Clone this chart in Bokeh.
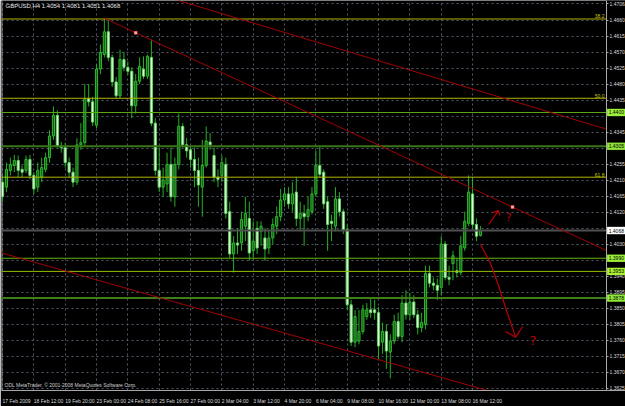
import numpy as np
from bokeh.plotting import figure
from bokeh.embed import file_html
from bokeh.resources import INLINE
from bokeh.models import (FixedTicker, PrintfTickFormatter, Label, Range1d, LinearAxis, Grid)
from bokeh.core.properties import value

# ---- OHLC data (GBPUSD H4, bar index 0 = 17 Feb 2009 04:00) ----
opens = [1.4204, 1.4190, 1.4237, 1.4251, 1.4265, 1.4240, 1.4237, 1.4268, 1.4223, 1.4190,
         1.4218, 1.4240, 1.4273, 1.4334, 1.4392, 1.4306, 1.4301, 1.4259, 1.4232, 1.4204,
         1.4309, 1.4315, 1.4439, 1.4430, 1.4364, 1.4522, 1.4563, 1.4627, 1.4555, 1.4486,
         1.4447, 1.4549, 1.4527, 1.4516, 1.4419, 1.4488, 1.4522, 1.4502, 1.4555, 1.4370,
         1.4237, 1.4190, 1.4199, 1.4254, 1.4163, 1.4254, 1.4361, 1.4309, 1.4295, 1.4268,
         1.4237, 1.4190, 1.4251, 1.4317, 1.4279, 1.4218, 1.4223, 1.4254, 1.4121, 1.4002,
         1.4033, 1.4033, 1.4080, 1.4102, 1.4011, 1.4074, 1.4066, 1.4047, 1.4019, 1.4047,
         1.4080, 1.4107, 1.4154, 1.4171, 1.4143, 1.4176, 1.4102, 1.4116, 1.4107, 1.4121,
         1.4171, 1.4251, 1.4232, 1.4149, 1.4094, 1.4080, 1.4157, 1.4121, 1.4071, 1.3859,
         1.3754, 1.3757, 1.3784, 1.3826, 1.3845, 1.3845, 1.3837, 1.3754, 1.3784, 1.3726,
         1.3757, 1.3812, 1.3770, 1.3864, 1.3831, 1.3867, 1.3831, 1.3795, 1.3804, 1.3947,
         1.3920, 1.3914, 1.3908, 1.4030, 1.3936, 1.3975, 1.3955, 1.3950, 1.4019, 1.4088,
         1.4171, 1.4085, 1.4054]
highs = [1.4223, 1.4259, 1.4273, 1.4281, 1.4279, 1.4251, 1.4279, 1.4281, 1.4232, 1.4259,
         1.4273, 1.4287, 1.4350, 1.4417, 1.4406, 1.4317, 1.4315, 1.4273, 1.4245, 1.4328,
         1.4370, 1.4480, 1.4480, 1.4444, 1.4535, 1.4591, 1.4665, 1.4660, 1.4563, 1.4500,
         1.4577, 1.4571, 1.4544, 1.4527, 1.4508, 1.4555, 1.4558, 1.4563, 1.4605, 1.4384,
         1.4301, 1.4245, 1.4287, 1.4301, 1.4273, 1.4397, 1.4370, 1.4328, 1.4306, 1.4301,
         1.4273, 1.4323, 1.4361, 1.4342, 1.4301, 1.4240, 1.4279, 1.4273, 1.4149, 1.4052,
         1.4074, 1.4121, 1.4163, 1.4149, 1.4094, 1.4094, 1.4094, 1.4074, 1.4066, 1.4102,
         1.4135, 1.4185, 1.4190, 1.4190, 1.4204, 1.4218, 1.4149, 1.4140, 1.4163, 1.4190,
         1.4292, 1.4306, 1.4240, 1.4163, 1.4113, 1.4190, 1.4176, 1.4129, 1.4085, 1.3873,
         1.3845, 1.3845, 1.3859, 1.3864, 1.3878, 1.3873, 1.3853, 1.3809, 1.3804, 1.3776,
         1.3831, 1.3837, 1.3886, 1.3900, 1.3892, 1.3886, 1.3845, 1.3837, 1.3969, 1.3969,
         1.3936, 1.3933, 1.4052, 1.4038, 1.3969, 1.4011, 1.3991, 1.4052, 1.4121, 1.4223,
         1.4218, 1.4102, 1.4081]
lows = [1.4149, 1.4176, 1.4223, 1.4232, 1.4218, 1.4218, 1.4229, 1.4212, 1.4171, 1.4176,
        1.4204, 1.4232, 1.4259, 1.4323, 1.4301, 1.4287, 1.4245, 1.4218, 1.4190, 1.4196,
        1.4295, 1.4306, 1.4417, 1.4362, 1.4356, 1.4508, 1.4555, 1.4544, 1.4472, 1.4439,
        1.4439, 1.4516, 1.4505, 1.4384, 1.4397, 1.4480, 1.4494, 1.4494, 1.4362, 1.4223,
        1.4176, 1.4163, 1.4176, 1.4149, 1.4135, 1.4240, 1.4301, 1.4273, 1.4245, 1.4190,
        1.4135, 1.4107, 1.4245, 1.4295, 1.4204, 1.4190, 1.4204, 1.4102, 1.3991, 1.3950,
        1.4002, 1.4011, 1.4038, 1.3983, 1.3991, 1.4002, 1.4025, 1.3983, 1.4002, 1.4030,
        1.4058, 1.4094, 1.4135, 1.4129, 1.4121, 1.4080, 1.4066, 1.4025, 1.4094, 1.4113,
        1.4163, 1.4218, 1.4129, 1.4011, 1.4038, 1.4066, 1.4107, 1.4058, 1.3845, 1.3743,
        1.3740, 1.3748, 1.3776, 1.3817, 1.3822, 1.3817, 1.3707, 1.3721, 1.3679, 1.3652,
        1.3748, 1.3762, 1.3754, 1.3817, 1.3817, 1.3822, 1.3776, 1.3782, 1.3790, 1.3908,
        1.3900, 1.3873, 1.3886, 1.3928, 1.3914, 1.3928, 1.3936, 1.3942, 1.4011, 1.4080,
        1.4074, 1.4038, 1.4051]
closes = [1.4163, 1.4240, 1.4253, 1.4265, 1.4237, 1.4232, 1.4268, 1.4223, 1.4185, 1.4237,
          1.4245, 1.4273, 1.4334, 1.4392, 1.4306, 1.4301, 1.4259, 1.4232, 1.4204, 1.4309,
          1.4315, 1.4439, 1.4430, 1.4373, 1.4522, 1.4569, 1.4627, 1.4555, 1.4486, 1.4447,
          1.4549, 1.4527, 1.4516, 1.4419, 1.4488, 1.4530, 1.4502, 1.4558, 1.4370, 1.4237,
          1.4190, 1.4210, 1.4254, 1.4163, 1.4254, 1.4361, 1.4309, 1.4292, 1.4268, 1.4237,
          1.4196, 1.4251, 1.4320, 1.4309, 1.4218, 1.4212, 1.4259, 1.4116, 1.4002, 1.4033,
          1.4027, 1.4099, 1.4116, 1.4005, 1.4038, 1.4019, 1.4080, 1.4016, 1.4047, 1.4085,
          1.4107, 1.4154, 1.4171, 1.4143, 1.4171, 1.4102, 1.4116, 1.4107, 1.4127, 1.4171,
          1.4251, 1.4226, 1.4143, 1.4085, 1.4088, 1.4157, 1.4121, 1.4071, 1.3859, 1.3754,
          1.3826, 1.3784, 1.3845, 1.3845, 1.3837, 1.3837, 1.3743, 1.3784, 1.3729, 1.3757,
          1.3812, 1.3770, 1.3864, 1.3831, 1.3867, 1.3831, 1.3795, 1.3809, 1.3947, 1.3920,
          1.3914, 1.3900, 1.4030, 1.3936, 1.3931, 1.3997, 1.3950, 1.4025, 1.4094, 1.4176,
          1.4085, 1.4052, 1.4068]

# time axis labels (bar index -> label)
time_tick_idx = [0, 8, 16, 24, 32, 40, 48, 56, 64, 72, 80, 88, 96, 104, 112, 120]
time_tick_lbl = ["17 Feb 2009", "18 Feb 12:00", "19 Feb 20:00", "23 Feb 00:00", "24 Feb 08:00",
                 "25 Feb 16:00", "27 Feb 00:00", "2 Mar 04:00", "3 Mar 12:00", "4 Mar 20:00",
                 "6 Mar 04:00", "9 Mar 08:00", "10 Mar 16:00", "12 Mar 00:00", "13 Mar 08:00",
                 "16 Mar 12:00"]
# price grid / axis labels
price_grid = [1.3625, 1.3670, 1.3715, 1.3760, 1.3805, 1.3850, 1.3895, 1.3940, 1.3985, 1.4030,
              1.4075, 1.4120, 1.4165, 1.4210, 1.4255, 1.4300, 1.4345, 1.4390, 1.4435, 1.4480,
              1.4525, 1.4570, 1.4615, 1.4660, 1.4706]
price_labels_hidden = [1.3985, 1.4075, 1.4300, 1.4390]   # covered by the price boxes

# horizontal objects
fib_levels = [1.4663, 1.4440, 1.4218]
fib_names = ["38.2", "50.0", "61.8"]
hline_prices = [1.4400, 1.4305, 1.3990, 1.3953, 1.3878]
hline_labels = ["1.4400", "1.4305", "1.3990", "1.3953", "1.3878"]
hline_colors = ["#5aa814", "#3a7418", "#64b80c", "#96c000", "#3f7f1a"]
hline_widths = [1, 2, 1, 1, 2]
hline_box = ["#9cf03a", "#8ee238", "#9cf03a", "#a8f030", "#90e838"]
bid_price = 1.4068
title_text = "GBPUSD,H4  1.4054 1.4081 1.4051 1.4068"

# trend lines (anchor points: bar index, price)
upper_x = [44.9, 154.2]
upper_y = [1.4715, 1.4353]
mid_x = [26.0, 130.2]
mid_y = [1.4665, 1.4134]
mid_anchor_x = [34.0, 130.2]
mid_anchor_y = [1.4624, 1.4134]
lower_x = [-0.26, 123.8]
lower_y = [1.4005, 1.3618]

# hand-drawn annotations
arrow_x = [122.0, 124.6, 126.6, 128.6, 131.0]
arrow_y = [1.4030, 1.3975, 1.3914, 1.3845, 1.3768]
arrowhead_xs = [[128.4, 131.0], [132.8, 131.0]]
arrowhead_ys = [[1.3784, 1.3768], [1.3798, 1.3768]]
up_arrow_x = [124.1, 126.6]
up_arrow_y = [1.4085, 1.4124]
up_head_xs = [[125.2, 126.6], [127.0, 126.6]]
up_head_ys = [[1.4119, 1.4124], [1.4110, 1.4124]]
qmark_x = [129.2, 135.4]
qmark_y = [1.4106, 1.3760]
qmark_size = ["11px", "13px"]

# ---- geometry ----
PX_PER_BAR = 3.917
X0 = -0.26
X1 = X0 + 624 / PX_PER_BAR       # right edge of canvas
XA = X0 + 605 / PX_PER_BAR       # price-axis line
Y0, Y1 = 1.3618, 1.4715
FONT = "Liberation Sans"
LBL_PX = 5.0

p = figure(width=625, height=406, x_range=Range1d(X0, X1), y_range=Range1d(Y0, Y1),
           output_backend="svg", toolbar_location=None, y_axis_location=None,
           background_fill_color="black", border_fill_color="black",
           min_border_left=1, min_border_right=0, min_border_top=0, min_border_bottom=9)
p.outline_line_color = None

# grids
if len(p.ygrid) == 0:
    p.add_layout(Grid(dimension=1, ticker=FixedTicker(ticks=price_grid)))
p.ygrid.ticker = FixedTicker(ticks=price_grid)
p.xgrid.ticker = FixedTicker(ticks=time_tick_idx)
for g in (p.xgrid, p.ygrid):
    g.grid_line_color = "#4e5c6a"
    g.grid_line_dash = "2 3"
    g.grid_line_width = 1

# x axis: labels start at their bar (MetaTrader style) -> shift tick by half label width
cw = {"F": .611, "e": .556, "b": .556, "M": .833, "a": .556, "r": .333, " ": .278, ":": .278}
shift = [sum(cw.get(ch, .556) for ch in t) * LBL_PX / 2 / PX_PER_BAR for t in time_tick_lbl]
xt = [i + s for i, s in zip(time_tick_idx, shift)]
p.xaxis.ticker = FixedTicker(ticks=xt)
p.xaxis.major_label_overrides = {v: t for v, t in zip(xt, time_tick_lbl)}
p.xaxis.major_tick_line_color = None
p.xaxis.minor_tick_line_color = None

# right price axis drawn at a fixed location
yax = LinearAxis(fixed_location=XA,
                 ticker=FixedTicker(ticks=[v for v in price_grid if v not in price_labels_hidden]),
                 formatter=PrintfTickFormatter(format="%.4f"))
p.add_layout(yax, "right")
yax.major_tick_in = 0
yax.major_tick_out = 2
yax.major_tick_line_color = "#a8a8a8"
yax.minor_tick_line_color = None
for ax in (p.xaxis, yax):
    ax.axis_line_color = "#a8a8a8"
    ax.major_label_text_color = "#dcdcdc"
    ax.major_label_text_font = FONT
    ax.major_label_text_font_size = "%gpx" % LBL_PX
    ax.major_label_standoff = 1

# left border
p.segment(x0=[X0 + 0.1], y0=[Y0], x1=[X0 + 0.1], y1=[Y1], line_color="#a8a8a8", line_width=1)
# blank the grid behind the price scale
p.quad(left=[XA], right=[X1 + 1], bottom=[Y0 - 1], top=[Y1 + 1], fill_color="black", line_color=None)

# ---- candles ----
o = np.array(opens); c = np.array(closes)
h = np.maximum(np.array(highs), np.maximum(o, c))
l = np.minimum(np.array(lows), np.minimum(o, c))
x = np.arange(len(o))
bull = c >= o
p.segment(x, h, x, l, line_color="#24b024", line_width=1)
p.vbar(x=x[bull], top=c[bull], bottom=o[bull], width=0.55,
       fill_color="#146014", line_color="#30b830", line_width=1)
p.vbar(x=x[~bull], top=o[~bull], bottom=c[~bull], width=0.55,
       fill_color="#e6fde0", line_color="#62d062", line_width=1)

# ---- horizontal lines ----
p.segment(x0=[X0] * 3, y0=fib_levels, x1=[XA] * 3, y1=fib_levels, line_color="#b4b400", line_width=1)
p.text(x=[XA - 0.5] * 3, y=fib_levels, text=fib_names, y_offset=-0.5, text_align="right",
       text_baseline="bottom", text_color="#c8c800", text_font_size="5px", text_font=value(FONT))
p.segment(x0=[X0] * len(hline_prices), y0=hline_prices, x1=[XA] * len(hline_prices), y1=hline_prices,
          line_color=hline_colors, line_width=hline_widths)
p.segment(x0=[X0], y0=[bid_price], x1=[XA], y1=[bid_price], line_color="#505050", line_width=2)

box_prices = hline_prices + [bid_price]
box_text = hline_labels + ["%.4f" % bid_price]
box_fill = hline_box + ["#ffffff"]
box_h = 7.5 * (Y1 - Y0) / 397
p.quad(left=[XA + 0.15] * len(box_prices), right=[X1 + 1] * len(box_prices),
       bottom=[v - box_h / 2 for v in box_prices], top=[v + box_h / 2 for v in box_prices],
       fill_color=box_fill, line_color=None, level="overlay")
p.text(x=[XA + 0.55] * len(box_prices), y=box_prices, text=box_text, text_align="left",
       text_baseline="middle", text_color="black", text_font_size="%gpx" % LBL_PX,
       text_font=value(FONT), level="overlay")

# ---- trend lines ----
RED = "#a00000"
gl = (lower_y[1] - lower_y[0]) / (lower_x[1] - lower_x[0])
gm = (mid_y[1] - mid_y[0]) / (mid_x[1] - mid_x[0])
p.segment(x0=[upper_x[0], lower_x[0] - 2, mid_x[0]],
          y0=[upper_y[0], lower_y[0] - 2 * gl, mid_y[0]],
          x1=[upper_x[1], lower_x[1] + 2, XA],
          y1=[upper_y[1], lower_y[1] + 2 * gl, mid_y[0] + gm * (XA - mid_x[0])],
          line_color=RED, line_width=1)
p.scatter(mid_anchor_x, mid_anchor_y, marker="square", size=3, fill_color="#ffb0b0",
          line_color="#ff4040", line_width=0.5)

# ---- hand drawn arrows / question marks ----
DRAW = "#b80000"
p.line(arrow_x, arrow_y, line_color=DRAW, line_width=1.2)
p.multi_line(arrowhead_xs, arrowhead_ys, line_color=DRAW, line_width=1.2)
p.line(up_arrow_x, up_arrow_y, line_color=DRAW, line_width=1.2)
p.multi_line(up_head_xs, up_head_ys, line_color=DRAW, line_width=1.2)
for qx, qy, qs in zip(qmark_x, qmark_y, qmark_size):
    p.text(x=[qx], y=[qy], text=["?"], text_color=DRAW, text_font_size=qs,
           text_font=value("DejaVu Sans"), text_align="center", text_baseline="middle")

# ---- texts ----
p.add_layout(Label(x=X0, y=Y1, text=title_text, x_offset=4, y_offset=-2, text_align="left",
                   text_baseline="top", text_color="#e8e8e8", text_font_size="6px", text_font=FONT))
p.add_layout(Label(x=X0, y=Y0, text="ODL MetaTrader, \u00a9 2001-2008 MetaQuotes Software Corp.",
                   x_offset=3, y_offset=3, text_align="left", text_baseline="bottom",
                   text_color="#d0d0d0", text_font_size="5px", text_font=FONT))

open("out.html", "w").write(file_html(p, INLINE))
